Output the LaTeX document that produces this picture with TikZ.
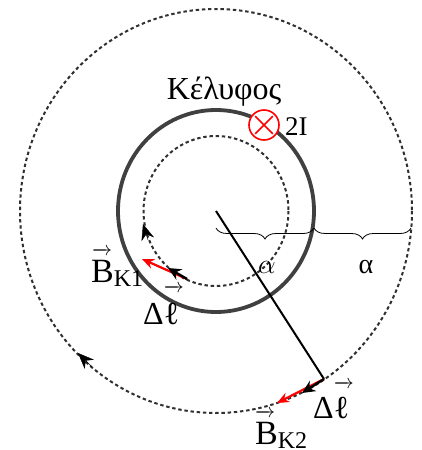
\RequirePackage{fix-cm}
\documentclass[tikz,border=0pt]{standalone}
\usepackage{amsmath}
\usepackage{fontspec}
\setmainfont{Liberation Serif}
\usetikzlibrary{arrows.meta,decorations.pathreplacing,shapes.misc}
\definecolor{ink}{HTML}{000000}
\definecolor{shellgray}{HTML}{404040}
\definecolor{loopgray}{HTML}{303030}
\definecolor{current}{HTML}{FF0000}
\tikzset{
  %% circles
  shell/.style   = {draw=shellgray, line width=3.8pt},
  loop/.style    = {draw=loopgray, line width=2pt, dash pattern=on 3.4pt off 2.8pt},
  radial/.style  = {draw=ink, line width=2pt},
  %% arrows
  dl/.style      = {-{Stealth[length=13pt,width=12pt]}, draw=ink, line width=2.4pt},
  bfield/.style  = {-{Stealth[length=12pt,width=10pt]}, draw=current, line width=2.2pt},
  sense/.style   = {-{Stealth[length=16pt,width=13pt]}, draw=ink, line width=0.4pt},
  gap/.style     = {decorate, decoration={brace, amplitude=11pt, mirror}, draw=ink, line width=0.8pt},
  %% symbols and labels
  wirec/.style   = {circle, draw=current, fill=white, line width=1.6pt, minimum size=30pt, inner sep=0pt},
  wirex/.style   = {cross out, draw=current, line width=1.6pt, minimum size=16pt, inner sep=0pt},
  lbl/.style     = {font=\fontsize{34}{40}\selectfont, inner sep=0pt},
  lbls/.style    = {font=\fontsize{32}{38}\selectfont, inner sep=0pt},
  lbla/.style    = {font=\fontsize{28}{34}\selectfont, inner sep=0pt},
}
%% small vector arrow set over a text: #1 text, #2 shift right, #3 raise
\newcommand{\arrowtxt}[3]{\makebox[0pt][l]{\hspace*{#2}\raisebox{#3}{\fontsize{20}{20}\selectfont$\overrightarrow{\hbox to 18pt{}}$}}#1}
\newcommand{\subtxt}[1]{\raisebox{-4pt}{\fontsize{24}{24}\selectfont #1}}

\begin{document}
\begin{tikzpicture}[x=1pt, y=-1pt]
\useasboundingbox (0,0) rectangle (421,450);

%% ============ field lines and shell ============
\coordinate (O) at (216,211);
\draw[loop]  (O) ellipse [x radius=196, y radius=202];
\draw[shell] (O) ellipse [x radius=98, y radius=101];
\draw[loop]  (O) ellipse [x radius=72.5, y radius=75];

%% ============ current in the shell ============
\node[wirec] (wire) at (264,125) {};
\node[wirex] (wirecross) at (wire.center) {};
\node[lbl, font=\fontsize{27}{32}\selectfont, anchor=base west] (curr) at (285,135) {2I};
\node[lbl, font=\fontsize{32}{38}\selectfont, anchor=base] (name) at (224,99) {Κέλυφος};

%% ============ distances ============
\coordinate (b0) at (216,228);
\coordinate (b1) at (314,228);
\coordinate (b2) at (411,228);
\draw[gap] (b0) -- (b1);
\draw[gap] (b1) -- (b2);
\node[lbla, anchor=base] (a1) at (267,273) {$\alpha$};
\node[lbla, anchor=base] (a2) at (366,273) {α};

%% ============ radius to the outer loop ============
\coordinate (P2) at (324,379);
\draw[radial] (O) -- (P2);

%% ============ inner loop ============
\coordinate (P1)  at (187,279);
\coordinate (dl1) at (168,268);
\coordinate (bk1) at (142,259);
\draw[bfield] (P1) -- (bk1);
\draw[dl]     (P1) -- (dl1);
\coordinate (s1a) at (148,240);
\coordinate (s1b) at (143,224);
\draw[sense] (s1a) -- (s1b);
\node[lbl, anchor=base west] (B1) at (91,282) {\arrowtxt{B}{1pt}{27pt}\subtxt{Κ1}};
\node[lbls, anchor=base west] (L1) at (143,324) {Δ\arrowtxt{ℓ}{0pt}{32pt}};

%% ============ outer loop ============
\coordinate (dl2) at (302,393);
\coordinate (bk2) at (277,403);
\draw[bfield] (P2) -- (bk2);
\draw[dl]     (P2) -- (dl2);
\coordinate (s2a) at (92,367);
\coordinate (s2b) at (78,353);
\draw[sense] (s2a) -- (s2b);
\node[lbl, anchor=base west] (B2) at (255,444) {\arrowtxt{B}{0pt}{27pt}\subtxt{Κ2}};
\node[lbls, anchor=base west] (L2) at (313,418) {Δ\arrowtxt{ℓ}{0pt}{30pt}};

\end{tikzpicture}
\end{document}
